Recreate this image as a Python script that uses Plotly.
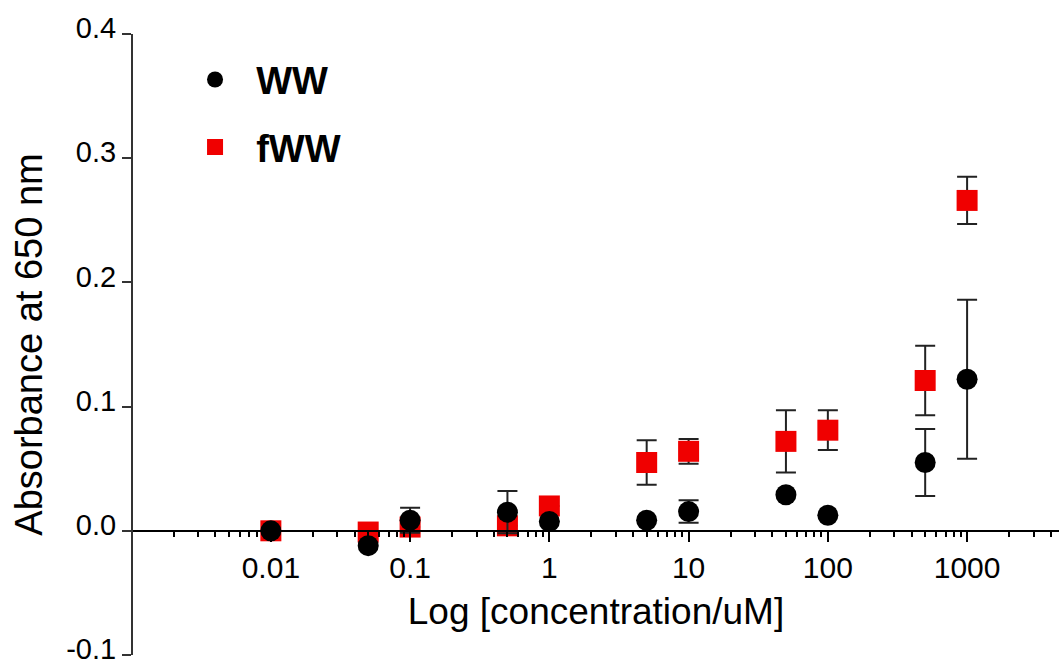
import plotly.graph_objects as go

# Data
conc = [0.01, 0.05, 0.1, 0.5, 1, 5, 10, 50, 100, 500, 1000]
ww = [0.0, -0.012, 0.0085, 0.015, 0.0075, 0.0085, 0.0155, 0.029, 0.0125, 0.055, 0.122]
ww_err = [0, 0, 0.010, 0.017, 0, 0, 0.009, 0, 0, 0.027, 0.064]
fww = [0.0, -0.001, 0.003, 0.004, 0.020, 0.055, 0.064, 0.072, 0.081, 0.121, 0.266]
fww_err = [0, 0, 0, 0, 0, 0.018, 0.010, 0.025, 0.016, 0.028, 0.019]

y_tickvals = [-0.1, 0.0, 0.1, 0.2, 0.3, 0.4]
y_ticktext = ["-0.1", "0.0", "0.1", "0.2", "0.3", "0.4"]

FONT = "Liberation Sans, Arial, Helvetica, sans-serif"
NB = "\u00a0\u00a0"

fig = go.Figure()
fig.add_trace(go.Scatter(
    x=conc, y=fww, mode="markers", name=NB + "fWW",
    marker=dict(symbol="square", size=21, color="#f00000", line=dict(width=0)),
    error_y=dict(type="data", array=fww_err, visible=True, color="#222222", thickness=2, width=10),
    legendgroup="b", legendrank=2,
))
fig.add_trace(go.Scatter(
    x=conc, y=ww, mode="markers", name=NB + "WW",
    marker=dict(symbol="circle", size=21, color="black", line=dict(width=0)),
    error_y=dict(type="data", array=ww_err, visible=True, color="#222222", thickness=2, width=10),
    legendgroup="a", legendrank=1,
))

fig.update_layout(
    width=1059, height=664,
    margin=dict(l=133, r=0, t=34, b=9, autoexpand=False),
    paper_bgcolor="white", plot_bgcolor="white",
    font=dict(family=FONT, color="black", size=30),
    showlegend=True,
    legend=dict(
        x=0.067, y=0.977, xanchor="left", yanchor="top",
        font=dict(size=38, family=FONT, color="black", weight="bold"),
        tracegroupgap=15, bgcolor="rgba(0,0,0,0)", itemsizing="trace",
    ),
    xaxis=dict(
        type="log", range=[-2.99, 3.66],
        anchor="free", position=0.2,
        tickmode="linear", tick0=0, dtick=1,
        exponentformat="none", automargin=False,
        showline=True, linecolor="black", linewidth=2,
        ticks="outside", ticklen=10, tickwidth=2, tickcolor="black",
        tickfont=dict(size=30, family=FONT, color="black"),
        minor=dict(ticks="outside", ticklen=5, tickwidth=1.5, tickcolor="black", dtick="D1", showgrid=False),
        showgrid=False, zeroline=False,
        title=dict(text="Log [concentration/uM]", font=dict(size=37, family=FONT, color="black"), standoff=14),
    ),
    yaxis=dict(
        range=[-0.1, 0.4], tickmode="array", tickvals=y_tickvals, ticktext=y_ticktext,
        automargin=False,
        showline=True, linecolor="#333333", linewidth=2,
        ticks="outside", ticklen=9, tickwidth=2, tickcolor="#333333",
        tickfont=dict(size=29, family=FONT, color="black"),
        ticklabelshift=-6,
        ticklabeloverflow="allow",
        showgrid=False, zeroline=False,
        title=dict(text="Absorbance at 650 nm", font=dict(size=38, family=FONT, color="black"), standoff=12),
    ),
)

fig.write_html("out.html")
